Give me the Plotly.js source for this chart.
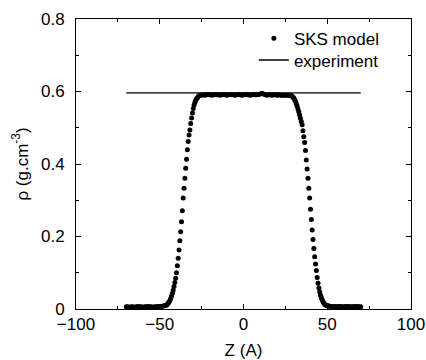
<!DOCTYPE html>
<html>
<head>
<meta charset="utf-8">
<script src="https://cdn.plot.ly/plotly-3.0.1.min.js"></script>
<style>html,body{margin:0;padding:0;background:#fff;}#chart{width:426px;height:360px;}</style>
</head>
<body>
<div id="chart"></div>
<script>
// SKS model density profile, split in segments
var zTailL = [-70,-69,-68,-67,-66,-65,-64,-63,-62,-61,-60,-59,-58,-57,-56,-55,-54,-53,-52,-51,-50,-49,-48,-47];
var rhoTailL = [0.006,0.006,0.005,0.006,0.006,0.005,0.006,0.007,0.006,0.006,0.005,0.006,0.006,0.007,0.006,0.006,0.005,0.006,0.006,0.007,0.007,0.007,0.008,0.009];
var zEdgeL = [-46.5,-46,-45.5,-45,-44.5,-44,-43.5,-43,-42.5,-42,-41.5,-41,-40.5,-40,-39.5,-39,-38.5,-38,-37.5,-37,-36.5,-36,-35.5,-35,-34.5,-34,-33.5,-33,-32.5,-32,-31.5,-31,-30.5,-30,-29.5,-29,-28.5,-28,-27.5,-27,-26.5,-26];
var rhoEdgeL = [0.010,0.011,0.013,0.016,0.019,0.023,0.028,0.035,0.043,0.052,0.062,0.073,0.085,0.100,0.119,0.140,0.163,0.188,0.213,0.241,0.271,0.306,0.333,0.361,0.388,0.413,0.439,0.462,0.480,0.494,0.512,0.527,0.541,0.553,0.563,0.570,0.576,0.580,0.583,0.586,0.588,0.589];
var zBulk = [-25,-24,-23,-22,-21,-20,-19,-18,-17,-16,-15,-14,-13,-12,-11,-10,-9,-8,-7,-6,-5,-4,-3,-2,-1,0,1,2,3,4,5,6,7,8,9,10,11,12,13,14,15,16,17,18,19,20,21,22,23,24,25,26,27,28];
var rhoBulk = [0.590,0.591,0.590,0.591,0.592,0.591,0.590,0.591,0.592,0.591,0.591,0.590,0.591,0.592,0.591,0.590,0.591,0.592,0.591,0.591,0.590,0.591,0.592,0.591,0.590,0.591,0.592,0.591,0.591,0.590,0.591,0.592,0.591,0.591,0.592,0.593,0.595,0.593,0.591,0.590,0.591,0.591,0.590,0.591,0.591,0.590,0.591,0.590,0.590,0.590,0.590,0.590,0.589,0.589];
var zEdgeR = [28.5,29,29.5,30,30.5,31,31.5,32,32.5,33,33.5,34,34.5,35,35.5,36,36.5,37,37.5,38,38.5,39,39.5,40,40.5,41,41.5,42,42.5,43,43.5,44,44.5,45,45.5,46,46.5,47,47.5,48,48.5,49,49.5,50,50.5,51];
var rhoEdgeR = [0.588,0.587,0.585,0.582,0.578,0.573,0.567,0.560,0.552,0.544,0.535,0.526,0.517,0.508,0.492,0.475,0.459,0.437,0.411,0.386,0.361,0.333,0.306,0.275,0.247,0.218,0.192,0.167,0.144,0.124,0.106,0.087,0.071,0.058,0.047,0.038,0.031,0.025,0.020,0.016,0.013,0.011,0.010,0.009,0.008,0.008];
var zTailR = [52,53,54,55,56,57,58,59,60,61,62,63,64,65,66,67,68,69,70];
var rhoTailR = [0.007,0.007,0.006,0.007,0.006,0.007,0.007,0.006,0.006,0.007,0.006,0.007,0.006,0.006,0.007,0.006,0.007,0.006,0.006];

// experiment
var zExp = [-70, 70];
var rhoExp = [0.596, 0.596];

var seriesNames = ['SKS model', 'experiment'];
var xTickVals = [-100, -50, 0, 50, 100];
var yTickVals = [0, 0.2, 0.4, 0.6, 0.8];

var zModel = zTailL.concat(zEdgeL, zBulk, zEdgeR, zTailR);
var rhoModel = rhoTailL.concat(rhoEdgeL, rhoBulk, rhoEdgeR, rhoTailR);

var FONT = 'Liberation Sans, Arial, Helvetica, sans-serif';

var traces = [
  {x: zModel, y: rhoModel, type: 'scatter', mode: 'markers', name: seriesNames[0],
   marker: {color: '#000', size: 5, line: {width: 0}}, legend: 'legend', cliponaxis: false},
  {x: zExp, y: rhoExp, type: 'scatter', mode: 'lines', name: seriesNames[1],
   line: {color: '#000', width: 1.3}, legend: 'legend2'}
];

var axisCommon = {
  showline: true, linecolor: '#000', linewidth: 1, mirror: 'allticks',
  ticks: 'inside', ticklen: 5, tickcolor: '#000', tickwidth: 1,
  showgrid: false, zeroline: false,
  tickfont: {family: FONT, size: 17, color: '#000'}
};

var layout = {
  width: 426, height: 360,
  margin: {l: 76, r: 15, t: 19, b: 51},
  paper_bgcolor: '#fff', plot_bgcolor: '#fff',
  font: {family: FONT, size: 17, color: '#000'},
  showlegend: true,
  xaxis: Object.assign({}, axisCommon, {
    range: [-100, 100], tickvals: xTickVals,
    minor: {dtick: 25, tick0: 0, ticks: 'inside', ticklen: 3, tickcolor: '#000'},
    title: {text: 'Z (A)', font: {family: FONT, size: 17, color: '#000'}, standoff: 10}
  }),
  yaxis: Object.assign({}, axisCommon, {
    range: [0, 0.8], tickvals: yTickVals, ticklabelstandoff: 7,
    minor: {dtick: 0.1, tick0: 0, ticks: 'inside', ticklen: 3, tickcolor: '#000'},
    title: {text: 'ρ (g.cm<sup>-3</sup>)', font: {family: FONT, size: 17, color: '#000'}, standoff: 8}
  }),
  legend: {x: 0.531, xanchor: 'left', y: 0.932, yanchor: 'middle', bgcolor: 'rgba(0,0,0,0)',
           borderwidth: 0, font: {family: FONT, size: 17, color: '#000'}},
  legend2: {x: 0.531, xanchor: 'left', y: 0.857, yanchor: 'middle', bgcolor: 'rgba(0,0,0,0)',
           borderwidth: 0, font: {family: FONT, size: 17, color: '#000'}}
};

Plotly.newPlot('chart', traces, layout, {displayModeBar: false, staticPlot: true});
</script>
</body>
</html>
